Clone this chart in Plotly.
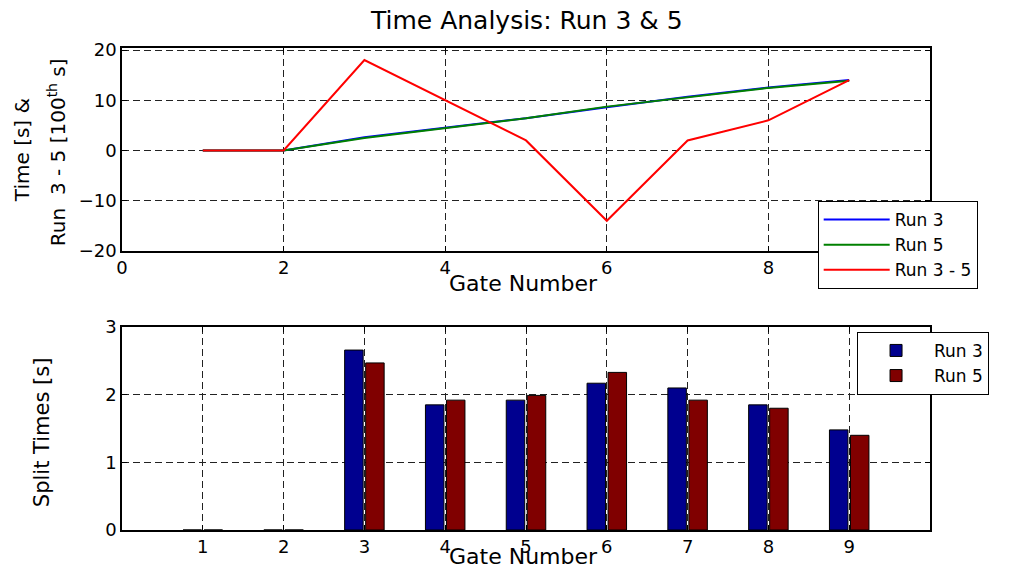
import plotly.graph_objects as go

gates = [1, 2, 3, 4, 5, 6, 7, 8, 9]
run3_cum = [0, 0, 2.65, 4.50, 6.43, 8.60, 10.70, 12.55, 14.03]
run5_cum = [0, 0, 2.47, 4.40, 6.40, 8.73, 10.66, 12.46, 13.86]
diff_35 = [0, 0, 18, 10, 2, -14, 2, 6, 14]
run3_split = [0, 0, 2.66, 1.85, 1.92, 2.17, 2.10, 1.85, 1.48]
run5_split = [0, 0, 2.47, 1.92, 1.99, 2.33, 1.92, 1.80, 1.40]
top_xticks = [0, 2, 4, 6, 8]
top_yticks = [-20, -10, 0, 10, 20]
bottom_yticks = [0, 1, 2, 3]

FONT = "DejaVu Sans, Arial, sans-serif"

fig = go.Figure()
fig.add_trace(go.Scatter(x=gates, y=run3_cum, mode="lines", name="Run 3",
                         line=dict(color="rgb(0,0,255)", width=2), xaxis="x", yaxis="y", legend="legend"))
fig.add_trace(go.Scatter(x=gates, y=run5_cum, mode="lines", name="Run 5",
                         line=dict(color="rgb(0,128,0)", width=2), xaxis="x", yaxis="y", legend="legend"))
fig.add_trace(go.Scatter(x=gates, y=diff_35, mode="lines", name="Run 3 - 5",
                         line=dict(color="rgb(255,0,0)", width=2), xaxis="x", yaxis="y", legend="legend"))
fig.add_trace(go.Bar(x=gates, y=run3_split, name="Run 3", marker=dict(color="rgb(0,0,143)", line=dict(color="black", width=1)),
                     xaxis="x2", yaxis="y2", legend="legend2"))
fig.add_trace(go.Bar(x=gates, y=run5_split, name="Run 5", marker=dict(color="rgb(128,0,0)", line=dict(color="black", width=1)),
                     xaxis="x2", yaxis="y2", legend="legend2"))

axis_common = dict(showline=True, linecolor="black", linewidth=1.5, mirror="ticks",
                   ticks="inside", ticklen=5, tickcolor="black",
                   showgrid=True, gridcolor="#222222", gridwidth=1, griddash="7px,4px",
                   zeroline=False, tickfont=dict(family=FONT, size=18, color="black"))

fig.update_layout(
    width=1011, height=564,
    margin=dict(l=122, r=81, t=48, b=34, autoexpand=False),
    paper_bgcolor="white", plot_bgcolor="white",
    font=dict(family=FONT, color="black"),
    barmode="group", bargap=0.48, bargroupgap=0.12,
    xaxis=dict(domain=[0, 1], range=[0, 10], tickvals=top_xticks, anchor="y", **axis_common),
    yaxis=dict(domain=[0.579, 1], range=[-20, 20.4], tickvals=top_yticks, anchor="x", **axis_common),
    xaxis2=dict(domain=[0, 1], range=[0, 10], tickvals=gates, anchor="y2", **axis_common),
    yaxis2=dict(domain=[0, 0.421], range=[0, 3], tickvals=bottom_yticks, anchor="x2", **axis_common),
    legend=dict(x=0.861, y=0.6826, xanchor="left", yanchor="top", bgcolor="white",
                bordercolor="black", borderwidth=1, font=dict(family=FONT, size=17),
                itemwidth=66, tracegroupgap=0),
    legend2=dict(x=0.9097, y=0.411, xanchor="left", yanchor="top", bgcolor="white",
                 bordercolor="black", borderwidth=1, font=dict(family=FONT, size=17),
                 itemwidth=66, tracegroupgap=0),
    annotations=[
        dict(text="Time Analysis: Run 3 & 5", x=0.5, y=1.058, xref="paper", yref="paper",
             showarrow=False, font=dict(family=FONT, size=25), xanchor="center", yanchor="middle"),
        dict(text="Gate Number", x=0.4975, y=0.5104, xref="paper", yref="paper",
             showarrow=False, font=dict(family=FONT, size=22), xanchor="center", yanchor="middle"),
        dict(text="Gate Number", x=0.4975, y=-0.025, xref="paper", yref="paper",
             showarrow=False, font=dict(family=FONT, size=22), xanchor="center", yanchor="top"),
        dict(text="Time [s] &", x=-0.1238, y=0.788, xref="paper", yref="paper", textangle=-90,
             showarrow=False, font=dict(family=FONT, size=20), xanchor="center", yanchor="middle"),
        dict(text="Run  3 - 5 [100<sup>th</sup> s]", x=-0.0804, y=0.784, xref="paper", yref="paper", textangle=-90,
             showarrow=False, font=dict(family=FONT, size=20), xanchor="center", yanchor="middle"),
        dict(text="Split Times [s]", x=-0.099, y=0.203, xref="paper", yref="paper", textangle=-90,
             showarrow=False, font=dict(family=FONT, size=21), xanchor="center", yanchor="middle"),
    ],
)

fig.write_html("out.html", config={"displayModeBar": False},
               post_script="document.body.style.margin='0px';")
